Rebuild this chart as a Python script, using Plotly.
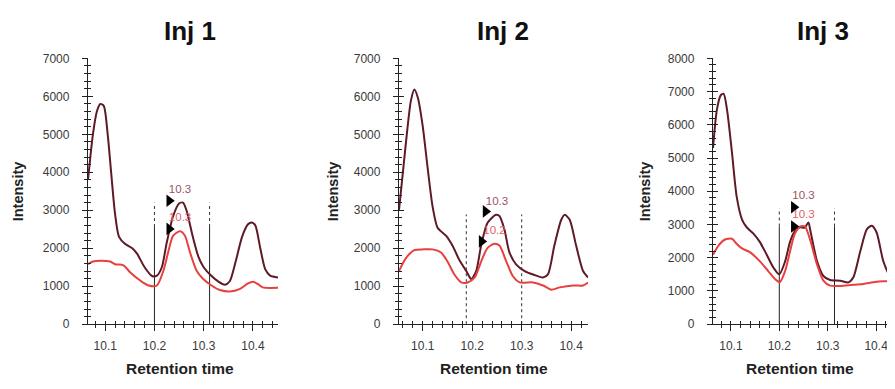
import plotly.graph_objects as go

# ---------------- data ----------------
titles = ["Inj 1", "Inj 2", "Inj 3"]

p1_dark_x = [10.065, 10.075, 10.083, 10.09, 10.097, 10.105, 10.112, 10.12, 10.128, 10.14, 10.155, 10.165, 10.18, 10.195, 10.205, 10.215, 10.225, 10.238, 10.25, 10.258, 10.265, 10.278, 10.29, 10.3, 10.315, 10.33, 10.343, 10.353, 10.365, 10.378, 10.39, 10.398, 10.405, 10.415, 10.425, 10.435, 10.451]
p1_dark_y = [3800, 5000, 5600, 5800, 5750, 5000, 4000, 2900, 2300, 2120, 2000, 1850, 1500, 1270, 1280, 1500, 2150, 2850, 3180, 3200, 3000, 2300, 1750, 1500, 1280, 1120, 1040, 1130, 1650, 2300, 2630, 2680, 2600, 2000, 1450, 1280, 1230]
p1_red_x = [10.065, 10.075, 10.09, 10.11, 10.12, 10.137, 10.151, 10.171, 10.188, 10.205, 10.218, 10.228, 10.238, 10.252, 10.262, 10.272, 10.286, 10.299, 10.316, 10.333, 10.353, 10.374, 10.39, 10.4, 10.41, 10.42, 10.451]
p1_red_y = [1580, 1650, 1670, 1650, 1580, 1550, 1360, 1150, 1020, 1020, 1400, 1900, 2330, 2450, 2330, 1900, 1400, 1190, 1020, 900, 860, 930, 1075, 1120, 1060, 970, 960]

p2_dark_x = [10.052, 10.066, 10.076, 10.083, 10.09, 10.1, 10.11, 10.12, 10.13, 10.147, 10.16, 10.174, 10.188, 10.198, 10.208, 10.218, 10.231, 10.248, 10.255, 10.265, 10.275, 10.289, 10.306, 10.323, 10.343, 10.353, 10.366, 10.38, 10.387, 10.397, 10.41, 10.424, 10.434]
p2_dark_y = [3000, 4780, 5880, 6180, 5970, 5210, 4100, 3090, 2540, 2330, 2070, 1690, 1400, 1190, 1400, 2070, 2670, 2880, 2850, 2500, 1900, 1570, 1400, 1310, 1230, 1310, 2070, 2750, 2880, 2750, 2070, 1400, 1230]
p2_red_x = [10.052, 10.066, 10.083, 10.1, 10.12, 10.137, 10.15, 10.164, 10.178, 10.191, 10.205, 10.218, 10.231, 10.245, 10.255, 10.269, 10.282, 10.296, 10.323, 10.343, 10.36, 10.377, 10.404, 10.424, 10.434]
p2_red_y = [1400, 1740, 1950, 1970, 1970, 1890, 1650, 1310, 1100, 1100, 1230, 1650, 2010, 2120, 2070, 1650, 1270, 1100, 1100, 1020, 910, 970, 1020, 1020, 1100]

p3_dark_x = [10.063, 10.071, 10.079, 10.085, 10.092, 10.102, 10.112, 10.123, 10.133, 10.147, 10.16, 10.174, 10.188, 10.2, 10.212, 10.222, 10.232, 10.243, 10.252, 10.26, 10.265, 10.278, 10.291, 10.305, 10.326, 10.343, 10.353, 10.367, 10.381, 10.391, 10.401, 10.415, 10.429, 10.439]
p3_dark_y = [5300, 6450, 6890, 6930, 6450, 5190, 3830, 3150, 2910, 2720, 2470, 2090, 1700, 1500, 1890, 2470, 2800, 2920, 2900, 3060, 2750, 1890, 1450, 1330, 1310, 1260, 1410, 2180, 2860, 2960, 2760, 1890, 1450, 1380]
p3_red_x = [10.063, 10.075, 10.088, 10.102, 10.112, 10.123, 10.14, 10.16, 10.177, 10.191, 10.201, 10.212, 10.222, 10.232, 10.243, 10.253, 10.263, 10.278, 10.291, 10.305, 10.326, 10.353, 10.374, 10.394, 10.415, 10.439]
p3_red_y = [2090, 2380, 2550, 2570, 2420, 2280, 2160, 1890, 1600, 1360, 1260, 1600, 2180, 2720, 2940, 2940, 2570, 1790, 1310, 1160, 1150, 1190, 1210, 1260, 1290, 1290]

# peak markers (arrowheads) and apex labels: [dark, red]
marker_x = [[10.23, 10.23], [10.227, 10.219], [10.23, 10.23]]
marker_y = [[3250, 2510], [2970, 2180], [3520, 2940]]
label_x = [[10.252, 10.252], [10.25, 10.245], [10.25, 10.25]]
label_y = [[3530, 2790], [3220, 2460], [3840, 3290]]
label_text = [["10.3", "10.3"], ["10.3", "10.2"], ["10.3", "10.3"]]

# integration boundary lines: x positions, top, dotted-part start
bound_x = [[10.2, 10.312], [10.188, 10.3], [10.2, 10.314]]
bound_top = [3200, 2890, 3490]
bound_dot_from = [2560, 0, 2940]

x_ranges = [[10.065, 10.451], [10.052, 10.434], [10.063, 10.439]]
y_ranges = [[0, 7000], [0, 7000], [0, 8000]]
x_ticks = [10.1, 10.2, 10.3, 10.4]

dark_x = [p1_dark_x, p2_dark_x, p3_dark_x]
dark_y = [p1_dark_y, p2_dark_y, p3_dark_y]
red_x = [p1_red_x, p2_red_x, p3_red_x]
red_y = [p1_red_y, p2_red_y, p3_red_y]

# ---------------- layout geometry ----------------
OFF = 8  # default page body margin
W, H = 895 - OFF, 389 - OFF


def px(p):
    return (p - OFF) / W


def py(q):
    return 1 - (q - OFF) / H


dom_x = [[px(88), px(278)], [px(399), px(588)], [px(713), 1.0]]
dom_y = [py(329), py(53)]
title_cx = [190, 503, 823]
ytitle_cx = [18, 333, 645]
xtitle_cx = [180, 494, 800]

DARK = "#5e1a26"
RED = "#e8403f"
AXC = "#222222"
TICKC = "#3a3a3a"
FONT = "Liberation Sans, Arial, sans-serif"

fig = go.Figure()
layout = dict(
    width=W, height=H, margin=dict(l=0, r=0, t=0, b=0),
    paper_bgcolor="white", plot_bgcolor="white", showlegend=False,
    font=dict(family=FONT, color=TICKC),
)
annotations = []

for i in range(3):
    n = i + 1
    xs = "x" if n == 1 else f"x{n}"
    ys = "y" if n == 1 else f"y{n}"
    on = n + 3
    xo, yo = f"x{on}", f"y{on}"
    xkey = "xaxis" if n == 1 else f"xaxis{n}"
    ykey = "yaxis" if n == 1 else f"yaxis{n}"

    # boundary lines
    for bx in bound_x[i]:
        if bound_dot_from[i] > 0:
            fig.add_trace(go.Scatter(x=[bx, bx], y=[0, bound_dot_from[i]], mode="lines",
                                     line=dict(color="#222222", width=1), xaxis=xs, yaxis=ys,
                                     hoverinfo="skip"))
        fig.add_trace(go.Scatter(x=[bx, bx], y=[bound_dot_from[i], bound_top[i]], mode="lines",
                                 line=dict(color="#333333", width=1, dash="dot"), xaxis=xs, yaxis=ys,
                                 hoverinfo="skip"))

    fig.add_trace(go.Scatter(x=dark_x[i], y=dark_y[i], mode="lines",
                             line=dict(color=DARK, width=2, shape="spline", smoothing=0.7),
                             xaxis=xs, yaxis=ys))
    fig.add_trace(go.Scatter(x=red_x[i], y=red_y[i], mode="lines",
                             line=dict(color=RED, width=2, shape="spline", smoothing=0.7),
                             xaxis=xs, yaxis=ys))
    fig.add_trace(go.Scatter(x=marker_x[i], y=marker_y[i], mode="markers",
                             marker=dict(symbol="triangle-right", size=11, color="black"),
                             xaxis=xs, yaxis=ys))
    fig.add_trace(go.Scatter(x=label_x[i], y=label_y[i], mode="text", text=label_text[i],
                             textfont=dict(size=11.5, color=["#a0506a", "#e2606a"], family=FONT),
                             xaxis=xs, yaxis=ys))
    # empty trace for overlay axes (crossing ticks)
    fig.add_trace(go.Scatter(x=[], y=[], xaxis=xo, yaxis=yo))

    common_x = dict(domain=dom_x[i], range=x_ranges[i], tickvals=x_ticks,
                    ticktext=[f"{v:.1f}" for v in x_ticks], showgrid=False, zeroline=False)
    common_y = dict(domain=dom_y, range=y_ranges[i], dtick=1000, tick0=0,
                    showgrid=False, zeroline=False)

    layout[xkey] = dict(common_x, anchor=ys, showline=True, linecolor=AXC, linewidth=1.3,
                        ticks="outside", ticklen=6, tickwidth=1.3, tickcolor=AXC,
                        tickfont=dict(size=12, color=TICKC, family=FONT),
                        ticklabelstandoff=4,
                        minor=dict(dtick=0.02, tick0=10.0, ticks="outside", ticklen=3,
                                   tickwidth=1, tickcolor=AXC, showgrid=False))
    layout[ykey] = dict(common_y, anchor=xs, showline=True, linecolor=AXC, linewidth=1.3,
                        ticks="outside", ticklen=5, tickwidth=1.3, tickcolor=AXC,
                        tickfont=dict(size=12, color=TICKC, family=FONT),
                        ticklabelstandoff=10,
                        minor=dict(dtick=200, tick0=0, ticks="outside", ticklen=3,
                                   tickwidth=1, tickcolor=AXC, showgrid=False))
    layout[f"xaxis{on}"] = dict(common_x, anchor=yo, overlaying=xs, showline=False,
                                ticks="inside", ticklen=2, tickwidth=1.3, tickcolor=AXC,
                                showticklabels=False,
                                minor=dict(dtick=0.02, tick0=10.0, ticks="inside", ticklen=3,
                                           tickwidth=1, tickcolor=AXC, showgrid=False))
    layout[f"yaxis{on}"] = dict(common_y, anchor=xo, overlaying=ys, showline=False,
                                ticks="inside", ticklen=5, tickwidth=1.3, tickcolor=AXC,
                                showticklabels=False,
                                minor=dict(dtick=200, tick0=0, ticks="inside", ticklen=3,
                                           tickwidth=1, tickcolor=AXC, showgrid=False))

    annotations.append(dict(text=f"<b>{titles[i]}</b>", x=px(title_cx[i]), y=py(25),
                            xref="paper", yref="paper", showarrow=False,
                            font=dict(size=26, color="#111111", family=FONT),
                            xanchor="center", yanchor="middle"))
    annotations.append(dict(text="<b>Intensity</b>", x=px(ytitle_cx[i]), y=py(191),
                            xref="paper", yref="paper", showarrow=False, textangle=-90,
                            font=dict(size=14.5, color="#222222", family=FONT),
                            xanchor="center", yanchor="middle"))
    annotations.append(dict(text="<b>Retention time</b>", x=px(xtitle_cx[i]), y=py(375),
                            xref="paper", yref="paper", showarrow=False,
                            font=dict(size=15.5, color="#222222", family=FONT),
                            xanchor="center", yanchor="middle"))

layout["annotations"] = annotations
fig.update_layout(**layout)
fig.write_html("out.html")
